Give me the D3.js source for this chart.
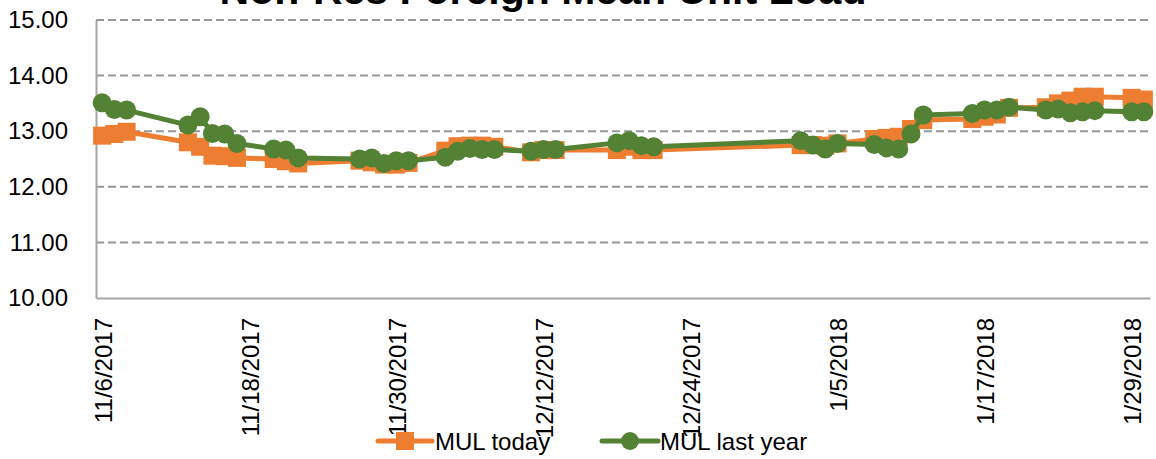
<!DOCTYPE html>
<html>
<head>
<meta charset="utf-8">
<script src="https://cdn.jsdelivr.net/npm/d3@7"></script>
<style>
    body { margin: 0; background: #fff; }
    svg { display: block; font-family: "Liberation Sans", Arial, sans-serif; }
</style>
</head>
<body>
<svg width="1156" height="459"></svg>
<script>
/*jslint browser: true */
/*global d3 */

"use strict";

var dates = [
    "2017-11-06", "2017-11-07", "2017-11-08", "2017-11-13", "2017-11-14",
    "2017-11-15", "2017-11-16", "2017-11-17", "2017-11-20", "2017-11-21",
    "2017-11-22", "2017-11-27", "2017-11-28", "2017-11-29", "2017-11-30",
    "2017-12-01", "2017-12-04", "2017-12-05", "2017-12-06", "2017-12-07",
    "2017-12-08", "2017-12-11", "2017-12-12", "2017-12-13", "2017-12-18",
    "2017-12-19", "2017-12-20", "2017-12-21", "2018-01-02", "2018-01-03",
    "2018-01-04", "2018-01-05", "2018-01-08", "2018-01-09", "2018-01-10",
    "2018-01-11", "2018-01-12", "2018-01-16", "2018-01-17", "2018-01-18",
    "2018-01-19", "2018-01-22", "2018-01-23", "2018-01-24", "2018-01-25",
    "2018-01-26", "2018-01-29", "2018-01-30"
];

var mulToday = [
    12.92, 12.95, 12.99, 12.80, 12.72, 12.56, 12.55, 12.52, 12.50, 12.46,
    12.42, 12.47, 12.44, 12.40, 12.40, 12.43, 12.65, 12.73, 12.74, 12.74,
    12.72, 12.62, 12.66, 12.66, 12.66, 12.72, 12.66, 12.66, 12.75, 12.75,
    12.74, 12.78, 12.86, 12.88, 12.90, 13.04, 13.20, 13.22, 13.26, 13.30,
    13.42, 13.43, 13.50, 13.55, 13.62, 13.62, 13.60, 13.57
];

var mulLastYear = [
    13.51, 13.39, 13.38, 13.11, 13.26, 12.96, 12.95, 12.78, 12.68, 12.66,
    12.52, 12.50, 12.52, 12.42, 12.47, 12.47, 12.53, 12.64, 12.69, 12.67,
    12.67, 12.64, 12.67, 12.67, 12.79, 12.83, 12.74, 12.72, 12.83, 12.75,
    12.68, 12.78, 12.76, 12.70, 12.68, 12.95, 13.29, 13.32, 13.38, 13.38,
    13.43, 13.38, 13.40, 13.33, 13.35, 13.37, 13.35, 13.35
];

var yTicks = [10, 11, 12, 13, 14, 15];
var xTickDates = [
    "2017-11-06", "2017-11-18", "2017-11-30", "2017-12-12",
    "2017-12-24", "2018-01-05", "2018-01-17", "2018-01-29"
];
var chartTitle = "Non-Res Foreign Mean Unit Load";
var seriesNames = ["MUL today", "MUL last year"];

var colors = {
    today: "#ed7d31",
    lastYear: "#548235",
    grid: "#979797",
    axis: "#a6a6a6",
    text: "#000"
};

var plot = {
    left: 96,
    right: 1150,
    top: 20,
    bottom: 298
};

var parse = d3.utcParse("%Y-%m-%d");
var fmt = d3.utcFormat("%-m/%-d/%Y");
var halfDay = 12 * 3600 * 1000;

var svg = d3.select("svg");

var firstDate = parse(dates[0]);
var lastDate = parse(dates[dates.length - 1]);

// excel date axis: each day is a slot, points sit in its middle
var xScale = d3.scaleUtc()
    .domain([new Date(+firstDate - halfDay), new Date(+lastDate + halfDay)])
    .range([plot.left, plot.right]);

var yScale = d3.scaleLinear()
    .domain([10, 15])
    .range([plot.bottom, plot.top]);

// gridlines
svg.append("g")
    .attr("class", "grid")
    .selectAll("line")
    .data(yTicks.filter(function (d) {
        return d !== 10;
    }))
    .join("line")
    .attr("x1", plot.left)
    .attr("x2", plot.right)
    .attr("y1", function (d) {
        return yScale(d);
    })
    .attr("y2", function (d) {
        return yScale(d);
    })
    .attr("stroke", colors.grid)
    .attr("stroke-width", 2)
    .attr("stroke-dasharray", "8,4");

// y axis
var yAxis = d3.axisLeft(yScale)
    .tickValues(yTicks)
    .tickFormat(d3.format(".2f"))
    .tickSize(0)
    .tickPadding(28);

svg.append("g")
    .attr("transform", "translate(" + plot.left + ",0)")
    .call(yAxis)
    .call(function (g) {
        g.select(".domain")
            .attr("stroke", colors.axis)
            .attr("stroke-width", 2);
        g.selectAll("text")
            .attr("font-size", 24)
            .attr("font-family", "Liberation Sans, Arial, sans-serif")
            .attr("fill", colors.text);
    });

// x axis
var xAxis = d3.axisBottom(xScale)
    .tickValues(xTickDates.map(parse))
    .tickFormat(fmt)
    .tickSize(0)
    .tickPadding(0);

svg.append("g")
    .attr("transform", "translate(0," + plot.bottom + ")")
    .call(xAxis)
    .call(function (g) {
        g.select(".domain")
            .attr("stroke", colors.axis)
            .attr("stroke-width", 2);
        g.selectAll("text")
            .attr("font-size", 24)
            .attr("font-family", "Liberation Sans, Arial, sans-serif")
            .attr("fill", colors.text)
            .attr("text-anchor", "end")
            .attr("dy", null)
            .attr("y", null)
            .attr("transform", "translate(9,20) rotate(-90)");
    });

var rows = function (values) {
    return dates.map(function (d, i) {
        return {date: parse(d), value: values[i]};
    });
};

var line = d3.line()
    .x(function (d) {
        return xScale(d.date);
    })
    .y(function (d) {
        return yScale(d.value);
    });

var todayRows = rows(mulToday);
var lastYearRows = rows(mulLastYear);
var sq = 18;

svg.append("path")
    .datum(todayRows)
    .attr("fill", "none")
    .attr("stroke", colors.today)
    .attr("stroke-width", 5)
    .attr("stroke-linejoin", "round")
    .attr("d", line);

svg.append("g")
    .selectAll("rect")
    .data(todayRows)
    .join("rect")
    .attr("x", function (d) {
        return xScale(d.date) - sq / 2;
    })
    .attr("y", function (d) {
        return yScale(d.value) - sq / 2;
    })
    .attr("width", sq)
    .attr("height", sq)
    .attr("fill", colors.today);

svg.append("path")
    .datum(lastYearRows)
    .attr("fill", "none")
    .attr("stroke", colors.lastYear)
    .attr("stroke-width", 5)
    .attr("stroke-linejoin", "round")
    .attr("d", line);

svg.append("g")
    .selectAll("circle")
    .data(lastYearRows)
    .join("circle")
    .attr("cx", function (d) {
        return xScale(d.date);
    })
    .attr("cy", function (d) {
        return yScale(d.value);
    })
    .attr("r", 9.5)
    .attr("fill", colors.lastYear);

// title, cut at the top like the original
svg.append("text")
    .attr("x", 543)
    .attr("y", 4)
    .attr("text-anchor", "middle")
    .attr("font-size", 41)
    .attr("font-weight", "bold")
    .attr("fill", colors.text)
    .text(chartTitle);

// legend
var legendY = 441;
var legend = svg.append("g");

legend.append("line")
    .attr("x1", 378).attr("x2", 432)
    .attr("y1", legendY).attr("y2", legendY)
    .attr("stroke", colors.today)
    .attr("stroke-width", 5)
    .attr("stroke-linecap", "round");
legend.append("rect")
    .attr("x", 405 - sq / 2).attr("y", legendY - sq / 2)
    .attr("width", sq).attr("height", sq)
    .attr("fill", colors.today);
legend.append("text")
    .attr("x", 435).attr("y", legendY + 9)
    .attr("font-size", 24)
    .attr("fill", colors.text)
    .text(seriesNames[0]);

legend.append("line")
    .attr("x1", 602).attr("x2", 658)
    .attr("y1", legendY).attr("y2", legendY)
    .attr("stroke", colors.lastYear)
    .attr("stroke-width", 5)
    .attr("stroke-linecap", "round");
legend.append("circle")
    .attr("cx", 630).attr("cy", legendY)
    .attr("r", 9)
    .attr("fill", colors.lastYear);
legend.append("text")
    .attr("x", 660).attr("y", legendY + 9)
    .attr("font-size", 24)
    .attr("fill", colors.text)
    .text(seriesNames[1]);
</script>
</body>
</html>
